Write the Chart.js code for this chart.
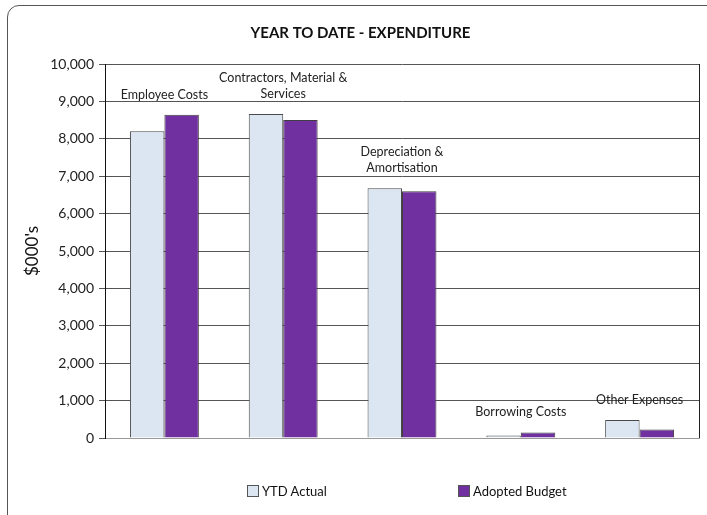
<!DOCTYPE html>
<html>
<head>
<title>Year to Date - Expenditure</title>
<script src="https://cdn.jsdelivr.net/npm/chart.js"></script>
<style>
  body { margin: 0; background: #fff; font-family: Lato, "Open Sans", sans-serif; }
  #wrap { position: relative; width: 707px; height: 515px; overflow: hidden; }
  #frame { position: absolute; left: 7px; top: 5px; width: 720px; height: 530px;
           border: 1.5px solid #555; border-radius: 12px; box-sizing: border-box; }
  canvas { position: absolute; left: 0; top: 0; }
  .leg { position: absolute; top: 483px; font-size: 13px; color: #111; }
  .leg span { display: inline-block; width: 10px; height: 10px; border: 1px solid #555;
              margin-right: 3px; vertical-align: -1px; }
</style>
</head>
<body>
<div id="wrap">
  <div id="frame"></div>
  <canvas id="grafica" width="707" height="515"></canvas>
  <div class="leg" style="left:247px"><span style="background:#dce6f2"></span>YTD Actual</div>
  <div class="leg" style="left:458px"><span style="background:#7030a0"></span>Adopted Budget</div>
</div>
<script>
  // Datos de la gráfica
  const categorias = [
    ['Employee Costs'],
    ['Contractors, Material &', 'Services'],
    ['Depreciation &', 'Amortisation'],
    ['Borrowing Costs'],
    ['Other Expenses']
  ];
  const ytdActual = [8200, 8660, 6680, 65, 480];
  const adoptedBudget = [8640, 8500, 6600, 150, 225];

  // Etiquetas encima de las barras
  const etiquetasCategoria = {
    id: 'etiquetasCategoria',
    afterDatasetsDraw(chart) {
      const ctx = chart.ctx;
      const y = chart.scales.y;
      const x = chart.scales.x;
      ctx.save();
      ctx.font = '12.5px Lato, "Open Sans", sans-serif';
      ctx.fillStyle = '#222';
      ctx.textAlign = 'center';
      ctx.textBaseline = 'alphabetic';
      categorias.forEach((lineas, i) => {
        const top = y.getPixelForValue(Math.max(ytdActual[i], adoptedBudget[i]));
        const cx = x.getPixelForValue(i);
        const base = top - 16;
        for (let k = 0; k < lineas.length; k++) {
          ctx.fillText(lineas[k], cx, base - (lineas.length - 1 - k) * 16);
        }
      });
      ctx.restore();
    }
  };

  // Borde del área de la gráfica
  const bordeArea = {
    id: 'bordeArea',
    afterDraw(chart) {
      const a = chart.chartArea;
      const ctx = chart.ctx;
      ctx.save();
      ctx.strokeStyle = '#222';
      ctx.lineWidth = 1;
      ctx.beginPath();
      ctx.moveTo(a.right + 0.5, a.top);
      ctx.lineTo(a.right + 0.5, a.bottom);
      ctx.stroke();
      ctx.restore();
    }
  };

  const config = {
    type: 'bar',
    data: {
      labels: categorias.map(c => c.join(' ')),
      datasets: [{
        label: 'YTD Actual',
        data: ytdActual,
        backgroundColor: '#dce6f2',
        borderColor: '#4a4a4a',
        borderWidth: 1
      }, {
        label: 'Adopted Budget',
        data: adoptedBudget,
        backgroundColor: '#7030a0',
        borderColor: '#3f3f3f',
        borderWidth: 1
      }]
    },
    options: {
      responsive: false,
      animation: false,
      layout: { padding: { left: 22, right: 8, top: 0, bottom: 69 } },
      plugins: {
        legend: { display: false },
        tooltip: { enabled: false },
        title: {
          display: true,
          text: 'YEAR TO DATE - EXPENDITURE',
          color: '#111',
          font: { family: 'Lato, "Open Sans", sans-serif', size: 15, weight: 'bold' },
          padding: { top: 24, bottom: 22 }
        }
      },
      datasets: { bar: { categoryPercentage: 0.58, barPercentage: 1 } },
      scales: {
        x: {
          ticks: { display: false },
          grid: { display: false },
          border: { color: '#999' }
        },
        y: {
          min: 0,
          max: 10000,
          ticks: {
            stepSize: 1000,
            color: '#222',
            padding: 5,
            font: { family: 'Lato, "Open Sans", sans-serif', size: 14 },
            callback: v => v.toLocaleString('en-US')
          },
          grid: { color: '#555', tickLength: 6 },
          border: { color: '#111' },
          title: {
            display: true,
            text: "$000's",
            color: '#111',
            padding: 0,
            font: { family: 'Lato, "Open Sans", sans-serif', size: 17 }
          },
          afterFit(scale) { scale.width = 83; }
        }
      }
    },
    plugins: [etiquetasCategoria, bordeArea]
  };

  const grafica = new Chart(document.getElementById('grafica'), config);
</script>
</body>
</html>
